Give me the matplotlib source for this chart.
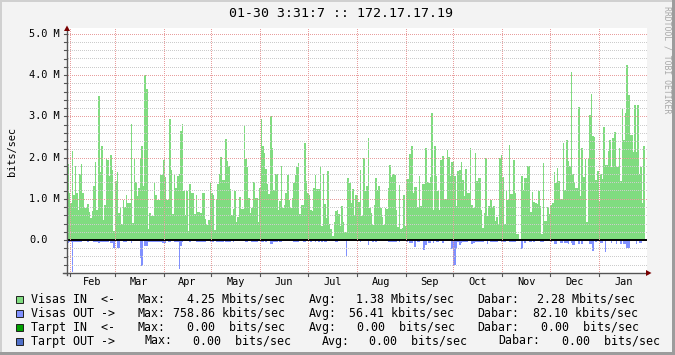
import numpy as np
import matplotlib
matplotlib.use("Agg")
import matplotlib.pyplot as plt
from matplotlib.lines import Line2D
from matplotlib.patches import Rectangle, Polygon

# ---------------- data (Mbit/s, one value per sample, Jan 30 -> Jan 30) ----------------
visas_in = [
    1.84, 1.13, 0.89, 2.16, 1.09, 1.79, 1.13, 0.73, 1.61, 1.85, 1.13, 0.77, 0.77, 0.87, 0.69, 0.54,
    0.71, 1.31, 1.90, 0.73, 3.48, 1.65, 2.27, 0.48, 0.85, 1.99, 1.94, 1.55, 2.06, 1.69, 0.22, 1.43,
    1.65, 0.66, 0.78, 0.38, 0.97, 0.81, 1.09, 0.90, 0.90, 2.81, 0.42, 1.96, 1.40, 1.07, 1.27, 1.96,
    2.27, 1.31, 4.00, 3.65, 0.27, 0.66, 0.59, 0.59, 1.40, 1.09, 0.98, 0.98, 1.57,
    1.57, 1.94, 1.52, 0.97, 0.98, 2.94, 1.69, 0.63, 1.60, 1.27, 1.56, 1.60, 2.64, 2.81, 1.19, 0.60,
    1.19, 0.23, 1.35, 1.15, 1.13, 0.63, 1.09, 0.68, 0.68, 0.66, 1.15, 1.13, 0.52, 0.36, 0.48, 1.39,
    1.13, 1.09, 0.24, 0.98, 1.35, 1.60, 2.02, 1.45, 1.45, 2.44, 1.91, 1.79, 1.23, 0.60, 0.75, 1.19,
    0.44, 0.56, 1.05, 0.75, 0.75, 2.78, 1.96, 1.77, 1.01, 0.66, 0.78, 1.40, 1.02, 1.01,
    0.44, 1.25, 2.94, 2.27, 2.12, 1.72, 1.35, 1.11, 3.00, 2.23, 1.21, 1.61, 1.61, 0.73, 0.94, 1.79,
    0.78, 0.85, 1.13, 1.57, 0.98, 0.77, 1.01, 1.39, 1.57, 1.76, 1.87, 0.63, 0.85, 0.85, 2.34, 1.44,
    1.15, 1.09, 0.73, 0.70, 1.27, 1.57, 1.23, 1.23, 1.77, 0.34, 1.61, 0.87, 0.54, 1.67, 0.39, 0.26,
    0.10, 0.44, 0.70, 0.72, 0.63, 0.35, 0.82, 0.43, 0.20, 0.20, 1.51, 1.39, 0.90, 1.23, 0.59,
    1.09, 1.07, 0.92, 1.69, 0.59, 1.99, 1.19, 1.31, 2.47, 0.78, 0.65, 0.36, 0.85, 1.51, 1.21, 1.31,
    0.78, 0.56, 0.36, 0.77, 0.75, 1.27, 1.81, 1.53, 1.61, 1.57, 0.73, 0.32, 1.33, 0.26, 0.28, 1.09,
    0.35, 1.48, 1.48, 2.08, 2.27, 1.15, 1.29, 1.29, 0.81, 1.56, 0.82, 1.35, 1.35, 2.24, 1.40, 1.37,
    1.52, 3.08, 0.73, 2.27, 1.56, 1.19, 0.73, 1.94, 2.03, 0.99, 0.99, 2.18, 2.02, 1.55,
    1.88, 1.88, 1.55, 0.82, 1.67, 1.69, 1.88, 1.45, 1.06, 1.73, 1.13, 1.13, 2.24, 0.85, 0.78, 2.10,
    1.44, 1.50, 1.50, 0.73, 0.28, 0.66, 1.99, 0.58, 0.82, 0.97, 0.81, 0.82, 0.46, 0.55, 0.40, 1.98,
    2.06, 1.53, 0.40, 1.21, 0.98, 2.31, 1.11, 1.11, 1.94, 1.15, 0.15, 0.15, 0.02, 1.55, 1.21, 1.50,
    1.50, 1.79, 1.79, 0.67, 1.17, 0.91, 0.89, 0.87, 1.19, 0.82, 0.15, 1.87, 0.46, 0.46, 0.81, 0.62,
    0.85, 0.90, 1.65, 1.39, 1.75, 1.43, 0.99, 0.99, 2.35, 1.21, 2.42, 1.91, 1.79, 4.07, 1.59, 1.41,
    1.27, 1.27, 3.23, 1.07, 2.22, 1.53, 1.96, 0.44, 1.99, 3.02, 3.55, 2.52, 2.50, 1.45, 1.67, 0.95,
    1.61, 1.49, 2.74, 1.83, 1.83, 2.15, 2.42, 1.77, 2.48, 2.62, 1.77, 1.77, 2.23, 1.43, 3.17, 2.42,
    3.09, 4.25, 3.51, 2.54, 2.54, 2.14, 3.28, 2.14, 3.28, 1.61, 1.77, 0.90, 2.28,
]

visas_out = [
    -0.08, -0.06, -0.06, -0.77, -0.05, -0.05, -0.05, -0.05, -0.06, -0.06, -0.03, -0.03, -0.03, -0.04,
    -0.03, -0.03, -0.03, -0.05, -0.05, -0.05, -0.07, -0.05, -0.06, -0.06, -0.06, -0.05, -0.05, -0.02,
    -0.07, -0.07, -0.20, -0.03, -0.19, -0.19, -0.03, -0.03, -0.05, -0.05, -0.05, -0.02, -0.02, -0.07,
    -0.03, -0.03, -0.03, -0.03, -0.03, -0.44, -0.63, -0.02, -0.14, -0.14, -0.05, -0.05, -0.05, -0.05,
    -0.05, -0.05, -0.05, -0.05, -0.05,
    -0.07, -0.07, -0.07, -0.02, -0.06, -0.06, -0.02, -0.02, -0.06, -0.06, -0.06, -0.71, -0.15, -0.06,
    -0.02, -0.02, -0.02, -0.02, -0.06, -0.02, -0.02, -0.02, -0.04, -0.04, -0.04, -0.04, -0.04, -0.04,
    -0.04, -0.02, -0.02, -0.04, -0.04, -0.04, -0.02, -0.05, -0.05, -0.06, -0.06, -0.06, -0.02, -0.06,
    -0.06, -0.06, -0.06, -0.02, -0.06, -0.02, -0.02, -0.02, -0.02, -0.02, -0.02, -0.02, -0.06, -0.06,
    -0.02, -0.02, -0.04, -0.04, -0.04, -0.04,
    -0.02, -0.02, -0.06, -0.06, -0.02, -0.06, -0.02, -0.02, -0.10, -0.10, -0.04, -0.04, -0.04, -0.02,
    -0.06, -0.06, -0.02, -0.02, -0.02, -0.02, -0.02, -0.02, -0.02, -0.06, -0.06, -0.06, -0.06, -0.02,
    -0.02, -0.06, -0.06, -0.02, -0.02, -0.02, -0.04, -0.02, -0.02, -0.06, -0.02, -0.06, -0.02, -0.06,
    -0.02, -0.06, -0.06, -0.02, -0.02, -0.02, -0.02, -0.02, -0.04, -0.04, -0.02, -0.02, -0.02, -0.02,
    -0.02, -0.39, -0.02, -0.02, -0.02, -0.02, -0.02,
    -0.02, -0.05, -0.02, -0.05, -0.02, -0.02, -0.02, -0.02, -0.12, -0.02, -0.02, -0.05, -0.02, -0.06,
    -0.02, -0.02, -0.02, -0.02, -0.02, -0.02, -0.02, -0.06, -0.06, -0.06, -0.06, -0.06, -0.06, -0.02,
    -0.05, -0.02, -0.02, -0.02, -0.02, -0.06, -0.02, -0.08, -0.08, -0.02, -0.16, -0.02, -0.06, -0.06,
    -0.02, -0.02, -0.24, -0.12, -0.02, -0.08, -0.08, -0.02, -0.08, -0.02, -0.05, -0.05, -0.02, -0.02,
    -0.07, -0.02, -0.02, -0.02, -0.02, -0.02,
    -0.23, -0.60, -0.60, -0.23, -0.05, -0.12, -0.08, -0.06, -0.06, -0.05, -0.05, -0.02, -0.02, -0.10,
    -0.08, -0.06, -0.06, -0.06, -0.06, -0.06, -0.06, -0.02, -0.02, -0.10, -0.02, -0.04, -0.04, -0.04,
    -0.04, -0.04, -0.02, -0.02, -0.06, -0.06, -0.06, -0.02, -0.02, -0.04, -0.04, -0.06, -0.06, -0.06,
    -0.02, -0.02, -0.02, -0.23, -0.02, -0.07, -0.02, -0.02, -0.06, -0.06, -0.02, -0.05, -0.02, -0.02,
    -0.02, -0.05, -0.05, -0.05, -0.02, -0.02, -0.02, -0.02,
    -0.06, -0.02, -0.09, -0.09, -0.02, -0.02, -0.07, -0.07, -0.02, -0.07, -0.07, -0.10, -0.02, -0.07,
    -0.12, -0.12, -0.02, -0.02, -0.09, -0.02, -0.10, -0.02, -0.02, -0.02, -0.02, -0.10, -0.10, -0.26,
    -0.02, -0.06, -0.02, -0.02, -0.08, -0.08, -0.02, -0.29, -0.02, -0.02, -0.02, -0.08, -0.02, -0.02,
    -0.09, -0.02, -0.02, -0.10, -0.02, -0.10, -0.10, -0.19, -0.19, -0.02, -0.02, -0.02, -0.02, -0.10,
    -0.02, -0.07, -0.07, -0.02, -0.02,
]

months = ["Feb", "Mar", "Apr", "May", "Jun", "Jul", "Aug", "Sep", "Oct", "Nov", "Dec", "Jan"]
month_start_day = [2, 30, 61, 91, 122, 152, 183, 214, 244, 275, 305, 336, 367]  # days after Jan 30
y_major = [0, 1, 2, 3, 4, 5]
y_major_labels = ["0.0", "1.0 M", "2.0 M", "3.0 M", "4.0 M", "5.0 M"]

title = "01-30 3:31:7 :: 172.17.17.19"
ylabel = "bits/sec"
watermark = "RRDTOOL / TOBI OETIKER"

legend_names = ["Visas IN  <-", "Visas OUT ->", "Tarpt IN  <-", "Tarpt OUT ->"]
legend_max = ["4.25 Mbits/sec", "758.86 kbits/sec", "0.00  bits/sec", "0.00  bits/sec"]
legend_avg = ["1.38 Mbits/sec", "56.41 kbits/sec", "0.00  bits/sec", "0.00  bits/sec"]
legend_cur = ["2.28 Mbits/sec", "82.10 kbits/sec", "0.00  bits/sec", "0.00  bits/sec"]
legend_colors = ["#80DC80", "#8090FF", "#00A000", "#5070C8"]

# ---------------- layout ----------------
W, H = 675, 355
DPI = 100
fig = plt.figure(figsize=(W / DPI, H / DPI), dpi=DPI)
fig.patch.set_facecolor("#F3F3F3")

def fx(px):
    return px / W

def fy(py):
    return 1 - py / H

L, R, T, B = 67, 647, 28, 273
PX_PER_M = 41.25
ZERO_PX = 240
TOTAL_DAYS = 365
PX_PER_DAY = 578 / TOTAL_DAYS

ax = fig.add_axes([fx(L), fy(B), (R - L) / W, (B - T) / H])
ax.set_facecolor("white")
ax.set_xlim(0, (R - L) / PX_PER_DAY)
ax.set_ylim(-(B - ZERO_PX) / PX_PER_M, (ZERO_PX - T) / PX_PER_M)
for s in ax.spines.values():
    s.set_visible(False)
ax.set_xticks([])
ax.set_yticks([])

# series
edges_in = np.linspace(0, TOTAL_DAYS, len(visas_in) + 1)
ax.stairs(visas_in, edges_in, baseline=0, fill=True, color=legend_colors[0], lw=0, zorder=2)
edges_out = np.linspace(0, TOTAL_DAYS, len(visas_out) + 1)
ax.stairs(visas_out, edges_out, baseline=0, fill=True, color=legend_colors[1], lw=0, zorder=2)
ax.axhline(0, color="black", lw=1.4, zorder=4)

# dotted pixel grid drawn on top of the data (rrdtool style)
def ypx(v):
    return ZERO_PX - v * PX_PER_M

gx0, gx1 = L + 1, R
nrow, ncol = B - T, gx1 - gx0
grid = np.zeros((nrow, ncol, 4))
minor_rgba = (0.80, 0.80, 0.80, 1.0)
major_rgba = (0.91, 0.62, 0.62, 1.0)
for v in np.arange(-0.6, 5.01, 0.2):
    v = round(v, 1)
    r = int(round(ypx(v))) - T
    if abs(v) < 1e-6 or not (0 <= r < nrow):
        continue
    col = major_rgba if abs(v - round(v)) < 1e-6 else minor_rgba
    grid[r, 0::2] = col
for d in month_start_day[:-1]:
    c = int(round(L + d * PX_PER_DAY)) - gx0
    if 0 <= c < ncol:
        grid[1::2, c] = major_rgba
fig.figimage(grid, xo=gx0, yo=H - B, origin="upper", zorder=1)

# axis lines and arrows (figure pixel coords)
axis_c = "#555555"
arrow_c = "#7A0000"
fig.add_artist(Line2D([fx(L), fx(L)], [fy(B + 2), fy(29)], color=axis_c, lw=1.0, zorder=3))
fig.add_artist(Line2D([fx(63), fx(648)], [fy(B), fy(B)], color=axis_c, lw=1.0, zorder=3))
fig.add_artist(Polygon([[fx(64), fy(31)], [fx(70), fy(31)], [fx(67), fy(25.5)]],
                       closed=True, color=arrow_c, lw=0, zorder=3))
fig.add_artist(Polygon([[fx(646), fy(270)], [fx(646), fy(276)], [fx(651.5), fy(273)]],
                       closed=True, color=arrow_c, lw=0, zorder=3))

# ticks
for v in np.arange(-0.8, 5.01, 0.2):
    fig.add_artist(Line2D([fx(64), fx(L)], [fy(ypx(v)), fy(ypx(v))], color=axis_c, lw=0.8))
for d in month_start_day[:-1]:
    xp = L + d * PX_PER_DAY
    fig.add_artist(Line2D([fx(xp), fx(xp)], [fy(B), fy(B + 3)], color=axis_c, lw=0.8))

mono = "DejaVu Sans Mono"
for v, lab in zip(y_major, y_major_labels):
    xr = 60 if lab.endswith("M") else 48
    fig.text(fx(xr), fy(ypx(v)), lab, ha="right", va="center", family=mono,
             fontsize=7.4, color="black")

for i, m in enumerate(months):
    mid = (month_start_day[i] + month_start_day[i + 1]) / 2
    xp = L + mid * PX_PER_DAY
    fig.text(fx(xp), fy(282), m, ha="center", va="center", family=mono, fontsize=7.4)

fig.text(fx(341), fy(13.5), title, ha="center", va="center", family=mono, fontsize=9.5)
fig.text(fx(12), fy(152), ylabel, ha="center", va="center", rotation=90, family=mono,
         fontsize=7.4)
fig.text(fx(667), fy(60), watermark, ha="center", va="center", rotation=-90, family=mono,
         fontsize=5.9, color="#A8A8A8")

# legend
line_y = [299.3, 313.3, 327.3, 341.0]
col_x = [
    [31, 137.7, 186.7, 308.3, 355.7, 477.7, 537.3],
    [31, 137.7, 172.7, 308.3, 349.0, 477.7, 533.3],
    [31, 137.7, 186.7, 308.3, 356.7, 477.7, 540.7],
    [31, 144.3, 193.3, 321.7, 369.3, 498.3, 561.7],
]
for i in range(4):
    yp = line_y[i]
    fig.add_artist(Rectangle((fx(15.5), fy(yp + 3.5)), 7 / W, 7 / H, facecolor=legend_colors[i],
                             edgecolor="#202020", lw=0.7))
    parts = [legend_names[i], "Max:", legend_max[i], "Avg:", legend_avg[i], "Dabar:", legend_cur[i]]
    for xp, t in zip(col_x[i], parts):
        fig.text(fx(xp), fy(yp), t, ha="left", va="center", family=mono, fontsize=8.4)

# 3D-ish frame
fig.add_artist(Rectangle((0, fy(2)), 1, 2 / H, facecolor="#D0D0D0", lw=0))
fig.add_artist(Rectangle((0, 0), 2 / W, 1, facecolor="#D0D0D0", lw=0))
fig.add_artist(Rectangle((0, 0), 1, 3 / H, facecolor="#9C9C9C", lw=0))
fig.add_artist(Rectangle((fx(672), 0), 3 / W, 1, facecolor="#9C9C9C", lw=0))

fig.savefig("out.png", dpi=DPI, facecolor=fig.get_facecolor())
